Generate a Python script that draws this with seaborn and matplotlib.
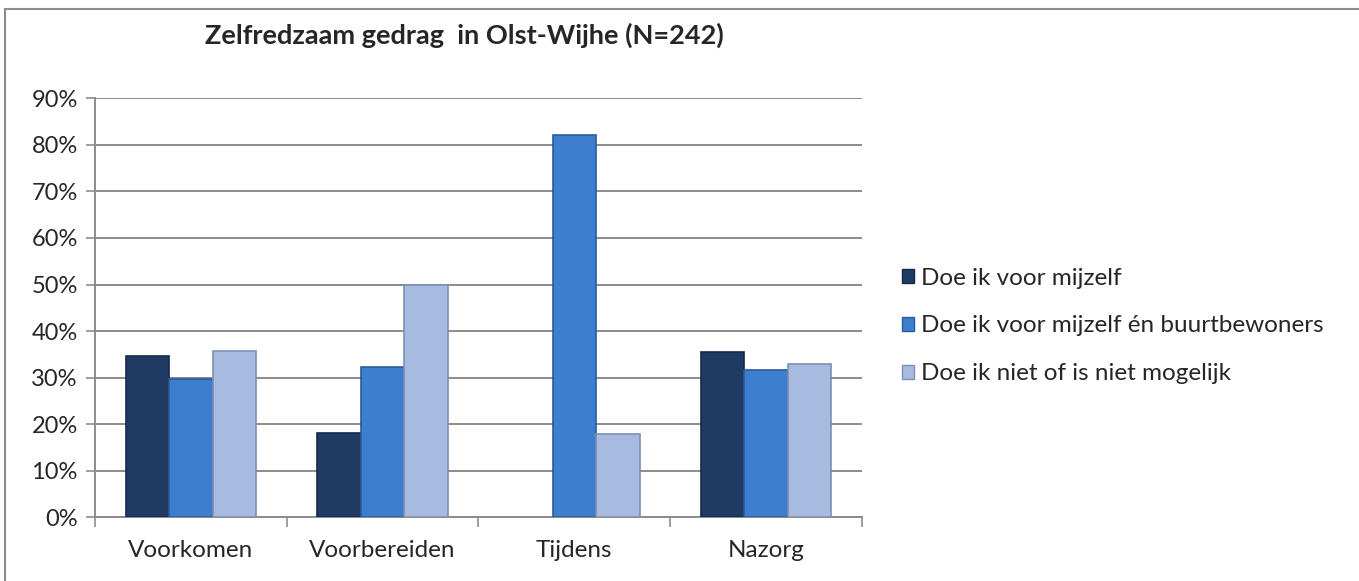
import pandas as pd
import matplotlib
matplotlib.use("Agg")
import matplotlib.pyplot as plt
from matplotlib.patches import Patch, Rectangle
from matplotlib.ticker import PercentFormatter, FixedLocator
import seaborn as sns

# data (fractions)
fases = ["Voorkomen", "Voorbereiden", "Tijdens", "Nazorg"]
reeksen = ["Doe ik voor mijzelf",
           "Doe ik voor mijzelf én buurtbewoners",
           "Doe ik niet of is niet mogelijk"]
mijzelf = [0.347, 0.181, 0.0, 0.354]
met_buurt = [0.297, 0.322, 0.822, 0.317]
niet = [0.357, 0.500, 0.179, 0.329]
kleuren = ["#1F3A63", "#3D7ECE", "#A7BADF"]
randen = ["#15294A", "#2A5C9C", "#7D8FB3"]

df = pd.DataFrame({
    "fase": fases * 3,
    "reeks": [r for r in reeksen for _ in fases],
    "waarde": mijzelf + met_buurt + niet,
})

sns.set_style("white")
plt.rcParams["font.family"] = ["Lato", "DejaVu Sans"]

fig = plt.figure(figsize=(13.59, 5.81), dpi=100)
ax = fig.add_axes([95 / 1359, 1 - 517.3 / 581, (862 - 95) / 1359, (517.3 - 98.3) / 581])

sns.barplot(data=df, x="fase", y="waarde", hue="reeks", order=fases,
            hue_order=reeksen, palette=kleuren, width=0.68, gap=0,
            linewidth=1.2, saturation=1, legend=False, ax=ax, zorder=3)

# darker edges per series, no outline on the empty bar
for cont, rand in zip(ax.containers, randen):
    for bar in cont:
        bar.set_edgecolor(rand)
        if bar.get_height() == 0:
            bar.set_linewidth(0)

ax.set_ylim(0, 0.9)
ax.set_xlim(-0.5, 3.5)
ax.yaxis.set_major_locator(FixedLocator([i / 10 for i in range(10)]))
ax.yaxis.set_major_formatter(PercentFormatter(1.0, decimals=0))
ax.grid(axis="y", color="#8C8C8C", linewidth=1.4, zorder=0)
ax.set_axisbelow(True)
ax.set_xlabel("")
ax.set_ylabel("")

for side in ["top", "right"]:
    ax.spines[side].set_visible(False)
for side in ["left", "bottom"]:
    ax.spines[side].set_color("#8C8C8C")
    ax.spines[side].set_linewidth(1.4)

ax.tick_params(axis="y", which="major", left=True, length=6.5, width=1.2,
               color="#8C8C8C", labelsize=17, pad=6)
ax.tick_params(axis="x", which="major", bottom=False, labelsize=17.5, pad=13)
ax.set_xticks([-0.5, 0.5, 1.5, 2.5, 3.5], minor=True)
ax.tick_params(axis="x", which="minor", bottom=True, length=7, width=1.2,
               color="#8C8C8C")

fig.text(464 / 1359, 1 - 35 / 581, "Zelfredzaam gedrag  in Olst-Wijhe (N=242)",
         ha="center", va="center", fontsize=19.5, fontweight="bold")

handles = [Patch(facecolor=k, edgecolor=r, linewidth=1) for k, r in zip(kleuren, randen)]
fig.legend(handles, reeksen, loc="center left",
           bbox_to_anchor=(902 / 1359, 1 - 326 / 581), frameon=False,
           fontsize=17.5, handlelength=0.5, handleheight=0.5,
           handletextpad=0.3, labelspacing=1.1, borderpad=0, borderaxespad=0)

# chart area border (only left/top visible in the crop)
fig.add_artist(Rectangle((5 / 1359, -0.1), 1.2, 1.1 - 9 / 581,
                         transform=fig.transFigure, fill=False,
                         edgecolor="#8C8C8C", linewidth=1.5))

fig.savefig("out.png", dpi=100)
